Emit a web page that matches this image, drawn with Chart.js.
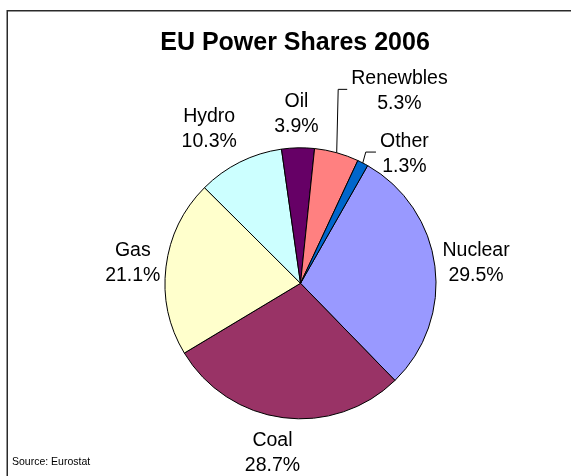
<!DOCTYPE html>
<html><head><meta charset="utf-8">
<script src="https://cdn.jsdelivr.net/npm/chart.js@4.4.1/dist/chart.umd.min.js"></script>
<style>html,body{margin:0;padding:0;background:#fff;overflow:hidden;} #wrap{position:relative;width:571px;height:476px;}</style>
</head><body><div id="wrap"><canvas id="c" width="571" height="476"></canvas></div>
<script>
const categories = ['Nuclear','Coal','Gas','Hydro','Oil','Renewbles','Other'];
const shares = [29.5,28.7,21.1,10.3,3.9,5.3,1.3];
const sliceColors = ['#9999FF','#993366','#FFFFCC','#CCFFFF','#660066','#FF8080','#0066CC'];
const chartTitle = 'EU Power Shares 2006';
const sourceNote = 'Source: Eurostat';
// small label nudges (px) relative to the automatic outside placement
const labelNudge = {Nuclear:[-2,2], Coal:[-6,0], Gas:[4,1], Hydro:[-12,4], Oil:[-1,-1], Renewbles:[51,-19], Other:[23,27]};
const leaderLabels = ['Renewbles','Other'];

const FONT = 'Arial, "Liberation Sans", sans-serif';
const decor = {
  id:'decor',
  beforeDraw(chart){
    const ctx=chart.ctx; ctx.save();
    ctx.fillStyle='#fff'; ctx.fillRect(0,0,chart.width,chart.height);
    ctx.strokeStyle='#2a2a2a'; ctx.lineWidth=1.5;
    ctx.beginPath(); ctx.moveTo(7.25, chart.height+2); ctx.lineTo(7.25,10.75); ctx.lineTo(chart.width+2,10.75); ctx.stroke();
    ctx.restore();
  },
  afterDraw(chart){
    const ctx=chart.ctx; ctx.save();
    ctx.fillStyle='#000'; ctx.textAlign='center'; ctx.textBaseline='middle';
    ctx.font='bold 25px '+FONT; ctx.fillText(chartTitle, 295, 43);
    ctx.font='10.5px '+FONT; ctx.textAlign='left'; ctx.fillText(sourceNote, 12, 462);
    const meta=chart.getDatasetMeta(0);
    const LH=25, PAD=7;
    ctx.font='19.5px '+FONT;
    meta.data.forEach((arc,i)=>{
      const p=arc.getProps(['x','y','startAngle','endAngle','outerRadius'],true);
      const mid=(p.startAngle+p.endAngle)/2, c=Math.cos(mid), s=Math.sin(mid);
      const name=categories[i], pct=shares[i].toFixed(1)+'%';
      const w=Math.max(ctx.measureText(name).width, ctx.measureText(pct).width), h=2*LH;
      const ext=Math.abs(w/2*c)+Math.abs(h/2*s);
      const d=p.outerRadius+PAD+ext;
      const nud=labelNudge[name]||[0,0];
      const lx=p.x+d*c+nud[0], ly=p.y+d*s+nud[1];
      ctx.textAlign='center';
      ctx.fillText(name, lx, ly-LH/2);
      ctx.fillText(pct, lx, ly+LH/2);
      if(leaderLabels.includes(name)){
        const ax=p.x+p.outerRadius*c, ay=p.y+p.outerRadius*s;
        const left=lx-w/2;
        const run=Math.abs(ay-ly);
        const ex=ax+(run>30?1.5:3);
        ctx.strokeStyle='#000'; ctx.lineWidth=1;
        ctx.beginPath(); ctx.moveTo(ax,ay); ctx.lineTo(ex,ly-2); ctx.lineTo(left-4, ly-2); ctx.stroke();
      }
    });
    ctx.restore();
  }
};

new Chart(document.getElementById('c'), {
  type:'pie',
  data:{labels:categories, datasets:[{data:shares, backgroundColor:sliceColors, borderColor:'#000', borderWidth:1}]},
  options:{responsive:false, animation:false, rotation:29.7, radius:135.5,
    layout:{padding:{left:30,right:0,top:100,bottom:9.4}},
    plugins:{legend:{display:false}, title:{display:false}, tooltip:{enabled:false}},
    events:[]},
  plugins:[decor]
});
</script></body></html>
